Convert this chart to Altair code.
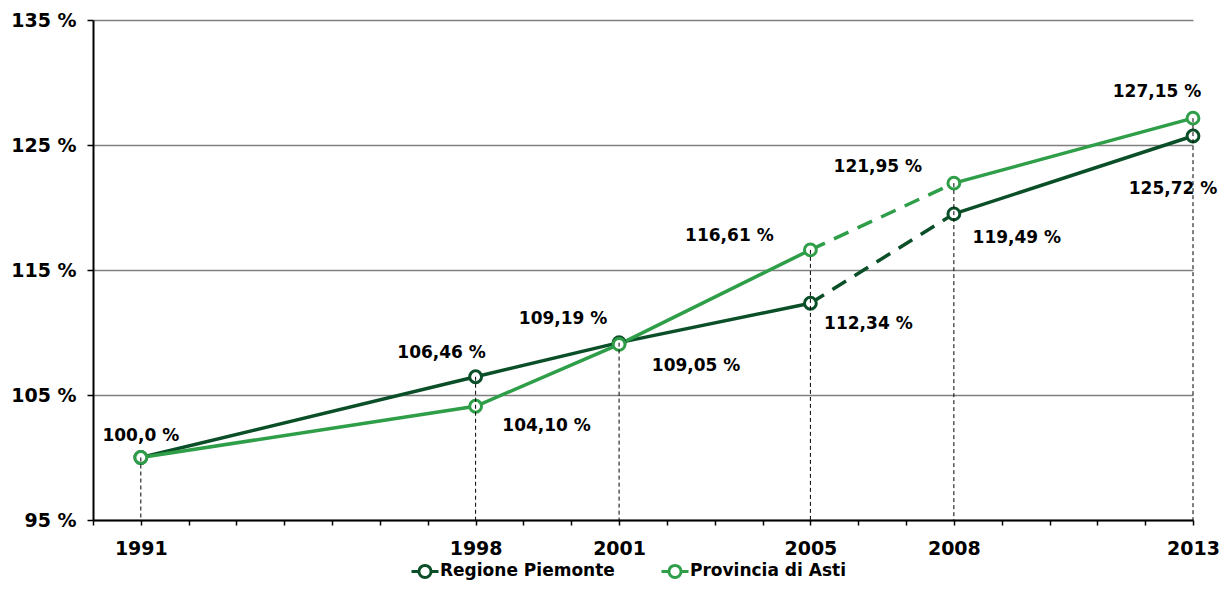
import altair as alt
import pandas as pd

# ---- data ----
YEARS = [1991, 1998, 2001, 2005, 2008, 2013]
SERIES = ["Regione Piemonte", "Provincia di Asti"]
PIEMONTE = [100.0, 106.46, 109.19, 112.34, 119.49, 125.72]
ASTI = [100.0, 104.10, 109.05, 116.61, 121.95, 127.15]
PIEMONTE_LABELS = ["100,0 %", "106,46 %", "109,19 %", "112,34 %", "119,49 %", "125,72 %"]
ASTI_LABELS = ["", "104,10 %", "109,05 %", "116,61 %", "121,95 %", "127,15 %"]
Y_TICKS = [95, 105, 115, 125, 135]

# ---- styles ----
DARK = "#0b4f28"
LIGHT = "#2f9e48"
FONT = "DejaVu Sans"
DASH_START, DASH_END = 2005, 2008
# label offsets (dx, dy) in pixels, keyed by (series index, year index)
OFFSETS = {
    (0, 0): (0, -22), (0, 1): (-34, -24), (0, 2): (-56, -24), (0, 3): (58, 21),
    (0, 4): (63, 24), (0, 5): (-20, 53),
    (1, 1): (71, 20), (1, 2): (77, 22), (1, 3): (-81, -14), (1, 4): (-76, -16),
    (1, 5): (-36, -26),
}

rows = []
for s, vals, labs in ((SERIES[0], PIEMONTE, PIEMONTE_LABELS), (SERIES[1], ASTI, ASTI_LABELS)):
    for i, (y, v, lab) in enumerate(zip(YEARS, vals, labs)):
        rows.append({"series": s, "si": SERIES.index(s), "yi": i, "year": y, "value": v, "label": lab})
pts = pd.DataFrame(rows)

seg_rows = []
for s, vals in ((SERIES[0], PIEMONTE), (SERIES[1], ASTI)):
    for y, v in zip(YEARS, vals):
        if y <= DASH_START:
            seg_rows.append({"series": s, "year": y, "value": v, "seg": "a", "dashed": False})
        if y >= DASH_END:
            seg_rows.append({"series": s, "year": y, "value": v, "seg": "c", "dashed": False})
        if DASH_START <= y <= DASH_END:
            seg_rows.append({"series": s, "year": y, "value": v, "seg": "b", "dashed": True})
segs = pd.DataFrame(seg_rows)

rules = pd.DataFrame({"year": YEARS, "top": [max(a, b) for a, b in zip(PIEMONTE, ASTI)]})

label_expr = "indexof([" + ",".join(str(y) for y in YEARS) + "], datum.value) >= 0 ? format(datum.value, 'd') : ''"

x_scale = alt.Scale(domain=[1990, 2013], nice=False, zero=False)
y_scale = alt.Scale(domain=[95, 135], nice=False, zero=False)

x_enc = alt.X("year:Q", scale=x_scale, axis=alt.Axis(
    values=list(range(1990, 2014)), labelExpr=label_expr, title=None, grid=False,
    domainColor="black", domainWidth=2, tickColor="black", tickWidth=1.5, tickSize=5,
    labelFont=FONT, labelFontWeight="bold", labelFontSize=19, labelColor="black",
    labelPadding=14, labelOverlap=False, labelFlush=False))
y_enc = alt.Y("value:Q", scale=y_scale, axis=alt.Axis(
    values=Y_TICKS, labelExpr="datum.value + ' %'", title=None, grid=True,
    gridColor="#808080", gridWidth=1.5, domainColor="black", domainWidth=2,
    tickColor="black", tickWidth=1.5, tickSize=6,
    labelFont=FONT, labelFontWeight="bold", labelFontSize=19, labelColor="black",
    labelPadding=11))

color_scale = alt.Scale(domain=SERIES, range=[DARK, LIGHT])
legend = alt.Legend(
    title=None, orient="none", direction="horizontal", legendX=317, legendY=536,
    symbolType="M-1,0L-0.45,0M0.45,0L1,0M0.45,0A0.45,0.45,0,1,1,-0.45,0A0.45,0.45,0,1,1,0.45,0",
    symbolSize=729, symbolStrokeWidth=3, symbolFillColor="white",
    labelFont=FONT, labelFontWeight="bold", labelFontSize=17, labelColor="black",
    labelLimit=400, labelOffset=0, columnPadding=40, padding=0)

base = alt.Chart(segs)
solid = base.transform_filter("!datum.dashed").mark_line(strokeWidth=3.5).encode(
    x=x_enc, y=y_enc,
    color=alt.Color("series:N", scale=color_scale, legend=legend, sort=SERIES),
    detail="seg:N")
dashed = base.transform_filter("datum.dashed").mark_line(strokeWidth=3.5, strokeDash=[16, 10]).encode(
    x=alt.X("year:Q", scale=x_scale), y=alt.Y("value:Q", scale=y_scale),
    color=alt.Color("series:N", scale=color_scale, legend=None),
    detail="series:N")

points = alt.Chart(pts).mark_point(shape="circle", filled=False, fill="white", fillOpacity=1,
                                   size=140, strokeWidth=3, opacity=1).encode(
    x=alt.X("year:Q", scale=x_scale), y=alt.Y("value:Q", scale=y_scale),
    color=alt.Color("series:N", scale=color_scale, legend=None))

vrules = alt.Chart(rules).mark_rule(color="black", strokeWidth=1, strokeDash=[4, 3]).encode(
    x=alt.X("year:Q", scale=x_scale), y=alt.Y("top:Q", scale=y_scale), y2=alt.datum(95))

label_layers = []
for (si, yi), (dx, dy) in OFFSETS.items():
    label_layers.append(
        alt.Chart(pts).transform_filter(f"datum.si == {si} && datum.yi == {yi}")
        .mark_text(font=FONT, fontWeight="bold", fontSize=17, color="black",
                   dx=dx, dy=dy, align="center", baseline="middle")
        .encode(x=alt.X("year:Q", scale=x_scale), y=alt.Y("value:Q", scale=y_scale), text="label:N"))

chart = alt.layer(solid, dashed, points, vrules, *label_layers).properties(
    width=1100, height=500,
    autosize=alt.AutoSizeParams(type="none"),
    padding={"left": 85, "top": 12, "right": 27, "bottom": 62},
).configure_view(stroke=None)

chart.save("out.html", embed_options={"renderer": "svg", "actions": False})
